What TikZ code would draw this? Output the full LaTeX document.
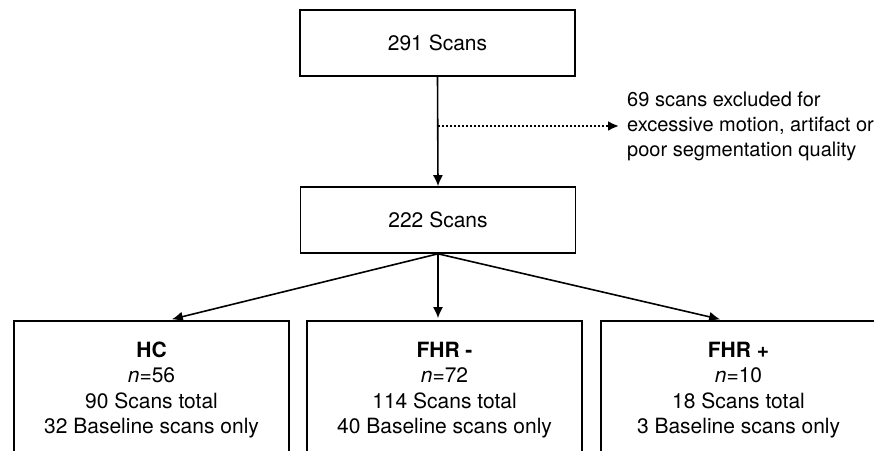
\documentclass[tikz,border=0pt]{standalone}
\usepackage{fontspec}
\setmainfont{TeX Gyre Heros}
\usepackage{tikz}
\usetikzlibrary{arrows.meta}

\begin{document}
\begin{tikzpicture}[x=1pt,y=-1pt,
  box/.style={draw, line width=1.6pt, minimum width=275pt, minimum height=66pt, inner sep=0pt, font=\fontsize{21}{25.5}\selectfont},
  group/.style={box, minimum height=138pt, align=center},
  arr/.style={-{Latex[length=11pt,width=10pt]}, line width=1.6pt}]
\clip (0,0) rectangle (874,450);

\node[box] (all) at (437.5,43) {291 Scans};
\node[box] (kept) at (438,220) {222 Scans};
\node[anchor=west, inner sep=0pt, align=left, font=\fontsize{20}{25}\selectfont] (excl) at (627,126) {69 scans excluded for\\excessive motion, artifact or\\poor segmentation quality};
\coordinate (split) at (437.5,126);

\node[group] (hc) at (151.5,390) {\textbf{HC}\\\textit{n}=56\\90 Scans total\\32 Baseline scans only};
\node[group] (fhrneg) at (444.5,390) {\textbf{FHR -}\\\textit{n}=72\\114 Scans total\\40 Baseline scans only};
\node[group] (fhrpos) at (738.5,390) {\textbf{FHR +}\\\textit{n}=10\\18 Scans total\\3 Baseline scans only};

\draw[arr] (all.south) -- (kept.north);
\draw[arr, dash pattern=on 2pt off 2pt, line width=2.2pt, shorten >=8pt] (split) -- (excl.west);

\draw[arr, shorten >=4pt] (kept.south) -- ([xshift=16.5pt]hc.north);
\draw[arr, shorten >=2pt] (kept.south) -- ([xshift=-6.5pt]fhrneg.north);
\draw[arr, shorten >=4pt] (kept.south) -- ([xshift=-14.5pt]fhrpos.north);
\end{tikzpicture}
\end{document}
